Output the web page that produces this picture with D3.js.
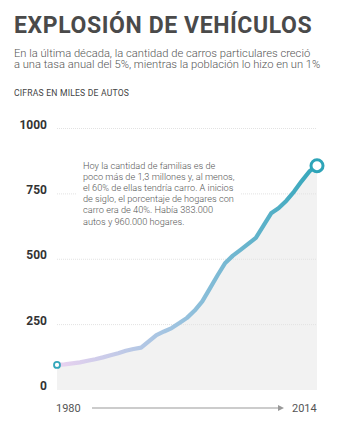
<!DOCTYPE html>
<head>
  <meta charset="utf-8">
  <script src="https://d3js.org/d3.v7.min.js"></script>
  <style>
    body { margin:0; background:#fff; }
    text { font-family: Roboto, "Noto Sans", sans-serif; }
  </style>
</head>
<body>
<script>
  var width = 350, height = 441;

  // autos (miles), 1980-2014
  var years = d3.range(1980, 2015);
  var autos = [92, 94, 98, 102, 108, 114, 121, 129, 137, 146,
               153, 158, 182, 206, 220, 233, 252, 272, 300, 335,
               385, 435, 482, 510, 532, 555, 578, 625, 672, 692,
               720, 755, 795, 832, 854];
  var yTicks = [0, 250, 500, 750, 1000];
  var subtitle = ["En la última década, la cantidad de carros particulares creció",
                  "a una tasa anual del 5%, mientras la población lo hizo en un 1%"];
  var note = ["Hoy la cantidad de familias es de",
              "poco más de 1,3 millones y, al menos,",
              "el 60% de ellas tendría carro. A inicios",
              "de siglo, el porcentaje de hogares con",
              "carro era de 40%. Había 383.000",
              "autos y 960.000 hogares."];

  var data = years.map(function(y, i){ return {year: y, v: autos[i]}; });

  var svg = d3.select("body").append("svg")
    .attr("width", width)
    .attr("height", height);

  var x = d3.scaleLinear().domain([1980, 2014]).range([57, 317]);
  var y = d3.scaleLinear().domain([0, 1000]).range([389, 127.5]);

  // title block
  svg.append("text").attr("x", 14).attr("y", 33)
    .attr("font-size", 23).attr("font-weight", 700).attr("fill", "#4a4a4a")
    .attr("letter-spacing", 0.6)
    .text("EXPLOSIÓN DE VEHÍCULOS");

  svg.append("g").selectAll("text").data(subtitle).enter().append("text")
    .attr("x", 14).attr("y", function(d, i){ return 56.5 + i * 11.5; })
    .attr("font-size", 11.2).attr("font-weight", 300).attr("fill", "#555")
    .text(function(d){ return d; });

  svg.append("text").attr("x", 14).attr("y", 96)
    .attr("font-size", 8.6).attr("fill", "#444").attr("letter-spacing", 0.2)
    .text("CIFRAS EN MILES DE AUTOS");

  // area
  var area = d3.area()
    .x(function(d){ return x(d.year); })
    .y0(y(0) + 1)
    .y1(function(d){ return y(d.v); });

  svg.append("path").datum(data)
    .attr("d", area)
    .attr("fill", "#f2f2f2");

  // grid
  svg.append("g").selectAll("line").data(yTicks.filter(function(t){ return t > 0; }))
    .enter().append("line")
    .attr("x1", 57).attr("x2", 317)
    .attr("y1", function(d){ return y(d) + 1; })
    .attr("y2", function(d){ return y(d) + 1; })
    .attr("stroke", "#e2e2e2")
    .attr("stroke-width", 1)
    .attr("stroke-dasharray", "1,1");

  // y labels
  svg.append("g").selectAll("text").data(yTicks).enter().append("text")
    .attr("x", 47).attr("y", function(d){ return y(d) + 1; })
    .attr("text-anchor", "end")
    .attr("font-size", 12).attr("font-weight", 700).attr("fill", "#333")
    .text(function(d){ return d; });

  // note box
  svg.append("rect").attr("x", 76).attr("y", 156).attr("width", 165).attr("height", 72)
    .attr("fill", "#fff");
  svg.append("g").selectAll("text").data(note).enter().append("text")
    .attr("x", 83).attr("y", function(d, i){ return 168.5 + i * 11.2; })
    .attr("font-size", 9.2).attr("font-weight", 300).attr("fill", "#555")
    .text(function(d){ return d; });

  // gradient line
  var defs = svg.append("defs");
  var grad = defs.append("linearGradient").attr("id", "lg")
    .attr("gradientUnits", "userSpaceOnUse")
    .attr("x1", x(1980)).attr("x2", x(2014)).attr("y1", 0).attr("y2", 0);
  grad.append("stop").attr("offset", "0%").attr("stop-color", "#ead2f0");
  grad.append("stop").attr("offset", "45%").attr("stop-color", "#9ec3e0");
  grad.append("stop").attr("offset", "100%").attr("stop-color", "#34a7bb");

  var line = d3.line()
    .x(function(d){ return x(d.year); })
    .y(function(d){ return y(d.v); });

  svg.append("path").datum(data)
    .attr("d", line)
    .attr("fill", "none")
    .attr("stroke", "url(#lg)")
    .attr("stroke-width", 4.2)
    .attr("stroke-linejoin", "round");

  var first = data[0], last = data[data.length - 1];
  svg.append("circle").attr("cx", x(first.year)).attr("cy", y(first.v))
    .attr("r", 3).attr("fill", "#fff").attr("stroke", "#34a7bb").attr("stroke-width", 1.8);
  svg.append("circle").attr("cx", x(last.year)).attr("cy", y(last.v))
    .attr("r", 6).attr("fill", "#fff").attr("stroke", "#2ea4b8").attr("stroke-width", 3);

  // x axis
  svg.append("text").attr("x", 56).attr("y", 412)
    .attr("font-size", 11).attr("fill", "#555").text(years[0]);
  svg.append("text").attr("x", 292).attr("y", 412)
    .attr("font-size", 11).attr("fill", "#555").text(years[years.length - 1]);
  svg.append("line").attr("x1", 92).attr("x2", 279).attr("y1", 408).attr("y2", 408)
    .attr("stroke", "#999").attr("stroke-width", 1);
  svg.append("path").attr("d", "M278,405L284,408L278,411Z").attr("fill", "#999");
</script>
</body>
